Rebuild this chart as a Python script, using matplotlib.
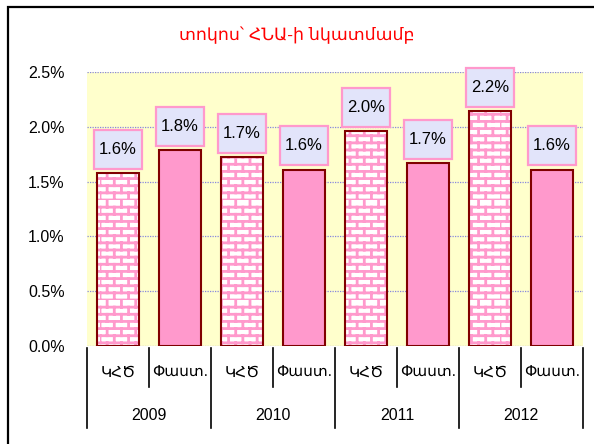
import warnings
import numpy as np
import matplotlib
matplotlib.use('Agg')
import matplotlib.pyplot as plt
from matplotlib import hatch as mhatch
from matplotlib.patches import Rectangle
from matplotlib.path import Path

warnings.filterwarnings('ignore')

# data
years = ['2009', '2010', '2011', '2012']
sub_labels = ['ԿՀԾ', 'Փաստ.']
kzd_values = [1.58, 1.72, 1.96, 2.14]
fact_values = [1.79, 1.61, 1.67, 1.61]
kzd_text = ['1.6%', '1.7%', '2.0%', '2.2%']
fact_text = ['1.8%', '1.6%', '1.7%', '1.6%']
yticks = [0.0, 0.5, 1.0, 1.5, 2.0, 2.5]
title = 'տոկոս՝ ՀՆԱ-ի նկատմամբ'


# brick hatch pattern ('b'), pink mortar lines on white
class BrickHatch(mhatch.HatchPatternBase):
    def __init__(self, hatch, density):
        self.rows = hatch.count('b') * 14
        self.cols = 7
        self.num_lines = self.rows * (1 + self.cols) if self.rows else 0
        self.num_vertices = self.num_lines * 2

    def set_vertices_and_codes(self, vertices, codes):
        k = 0
        h = 1.0 / self.rows
        w = 1.0 / self.cols
        for i in range(self.rows):
            y0 = i * h
            vertices[k] = (0, y0); vertices[k + 1] = (1, y0)
            codes[k] = 1; codes[k + 1] = 2
            k += 2
            off = w / 2 if i % 2 else 0
            for j in range(self.cols):
                xx = (j * w + off) % 1.0
                vertices[k] = (xx, y0); vertices[k + 1] = (xx, y0 + h)
                codes[k] = 1; codes[k + 1] = 2
                k += 2


mhatch._hatch_types.append(BrickHatch)


# label box: narrow side padding, tall top/bottom padding
def label_box(x0, y0, width, height, mutation_size):
    px = 0.28 * mutation_size
    py = 0.72 * mutation_size
    x0, y0 = x0 - px, y0 - py
    x1, y1 = x0 + width + 2 * px, y0 + height + 2 * py
    return Path([(x0, y0), (x1, y0), (x1, y1), (x0, y1), (x0, y0)],
                closed=True)


plt.rcParams['hatch.linewidth'] = 2.0
plt.rcParams['font.family'] = ['Liberation Sans', 'DejaVu Sans']

pink = '#FF99CC'
dark = '#800000'

fig = plt.figure(figsize=(5.94, 4.44), dpi=100)
ax = fig.add_axes([87 / 594, 1 - 346 / 444, 496 / 594, 274 / 444])
ax.set_facecolor('#FFFFCC')

n = len(years) * 2
x = np.arange(n)
values = []
texts = []
for k, f, kt, ft in zip(kzd_values, fact_values, kzd_text, fact_text):
    values += [k, f]
    texts += [kt, ft]

bw = 0.69
for i in range(n):
    if i % 2 == 0:
        ax.bar(x[i], values[i], width=bw, color='white', edgecolor=pink,
               hatch='b', linewidth=0, zorder=2)
        ax.bar(x[i], values[i], width=bw, fill=False, edgecolor=dark,
               linewidth=1.5, zorder=3)
    else:
        ax.bar(x[i], values[i], width=bw, color=pink, edgecolor=dark,
               linewidth=1.5, zorder=3)
    ax.annotate(texts[i], xy=(x[i], values[i]), xytext=(0, 17),
                textcoords='offset points', ha='center', va='center',
                fontsize=12, zorder=5,
                bbox=dict(boxstyle=label_box, facecolor='#E2E4FA',
                          edgecolor=pink, linewidth=1.6))

ax.set_xlim(-0.5, n - 0.5)
ax.set_ylim(0, 2.5)
ax.set_yticks(yticks)
ax.set_yticklabels(['%.1f%%' % v for v in yticks], fontsize=11.5)
ax.tick_params(axis='y', length=0, pad=16)
ax.grid(axis='y', color='#8888DD', linestyle=(0, (1, 1)), linewidth=0.9,
        zorder=1)
ax.set_xticks([])
for s in ax.spines.values():
    s.set_visible(False)

# two-level category axis
tr = ax.get_xaxis_transform()
for i in range(n):
    ax.text(x[i], -0.098, sub_labels[i % 2], transform=tr, ha='center',
            va='center', fontsize=11, clip_on=False)
for j in range(len(years)):
    ax.text(2 * j + 0.5, -0.255, years[j], transform=tr, ha='center',
            va='center', fontsize=11.5, clip_on=False)
for b in np.arange(n + 1) - 0.5:
    low = -0.30 if int(b + 0.5) % 2 == 0 else -0.15
    ax.plot([b, b], [-0.006, low], transform=tr, color='black',
            linewidth=1.2, clip_on=False)

fig.text(0.5, 1 - 35 / 444, title, color='red', fontsize=12.5,
         ha='center', va='center')

fig.patches.append(Rectangle((8 / 594, -0.1), 1.2, 1 - 7 / 444 + 0.1,
                             transform=fig.transFigure, fill=False,
                             edgecolor='black', linewidth=1.6))

fig.savefig('out.png', dpi=100)
